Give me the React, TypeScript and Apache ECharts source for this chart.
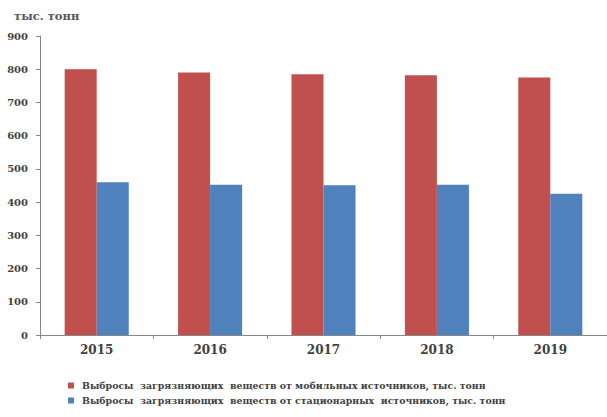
import React, { useEffect, useRef } from "react";
import * as echarts from "echarts";

const years = ["2015", "2016", "2017", "2018", "2019"];
const mobileEmissions = [800, 790, 785, 782, 775];
const stationaryEmissions = [460, 452, 451, 452, 425];
const mobileName = "Выбросы  загрязняющих  веществ от мобильных источников, тыс. тонн";
const stationaryName = "Выбросы  загрязняющих  веществ от стационарных  источников, тыс. тонн";
const unitLabel = "тыс. тонн";

const FONT = "'DejaVu Serif', 'Liberation Serif', serif";

export default function App() {
  const ref = useRef<HTMLDivElement>(null);

  useEffect(() => {
    if (!ref.current) return;
    const chart = echarts.init(ref.current, undefined, { renderer: "svg" });
    chart.setOption({
      animation: false,
      backgroundColor: "#ffffff",
      textStyle: { fontFamily: FONT },
      graphic: [
        {
          type: "text",
          left: 14,
          top: 10,
          style: {
            text: unitLabel,
            font: `bold 11.5px ${FONT}`,
            fill: "#595959",
          },
        },
      ],
      grid: { left: 40, top: 36, bottom: 82, width: 575 },
      legend: {
        orient: "vertical",
        left: 68,
        top: 381,
        padding: 0,
        itemWidth: 6,
        itemHeight: 6,
        itemGap: 6,
        icon: "rect",
        textStyle: {
          fontFamily: FONT,
          fontWeight: "bold",
          fontSize: 9.4,
          color: "#404040",
          padding: [0, 0, 0, 3],
        },
        data: [mobileName, stationaryName],
      },
      xAxis: {
        type: "category",
        data: years,
        axisLine: { lineStyle: { color: "#868686", width: 1 } },
        axisTick: { show: true, length: 4, lineStyle: { color: "#868686" } },
        axisLabel: {
          fontFamily: FONT,
          fontWeight: "bold",
          fontSize: 12,
          color: "#404040",
          margin: 9,
        },
      },
      yAxis: {
        type: "value",
        min: 0,
        max: 900,
        interval: 100,
        splitLine: { show: false },
        axisLine: { show: true, lineStyle: { color: "#868686", width: 1 } },
        axisTick: { show: true, length: 4, lineStyle: { color: "#868686" } },
        axisLabel: {
          fontFamily: FONT,
          fontWeight: "bold",
          fontSize: 10,
          color: "#404040",
          margin: 12,
        },
      },
      series: [
        {
          name: mobileName,
          type: "bar",
          data: mobileEmissions,
          barGap: "0%",
          barCategoryGap: "43.5%",
          itemStyle: { color: "#C0504D" },
        },
        {
          name: stationaryName,
          type: "bar",
          data: stationaryEmissions,
          itemStyle: { color: "#4F81BD" },
        },
      ],
    });
    return () => chart.dispose();
  }, []);

  return (
    <div
      ref={ref}
      style={{ position: "fixed", left: 0, top: 0, width: 607, height: 417 }}
    />
  );
}
